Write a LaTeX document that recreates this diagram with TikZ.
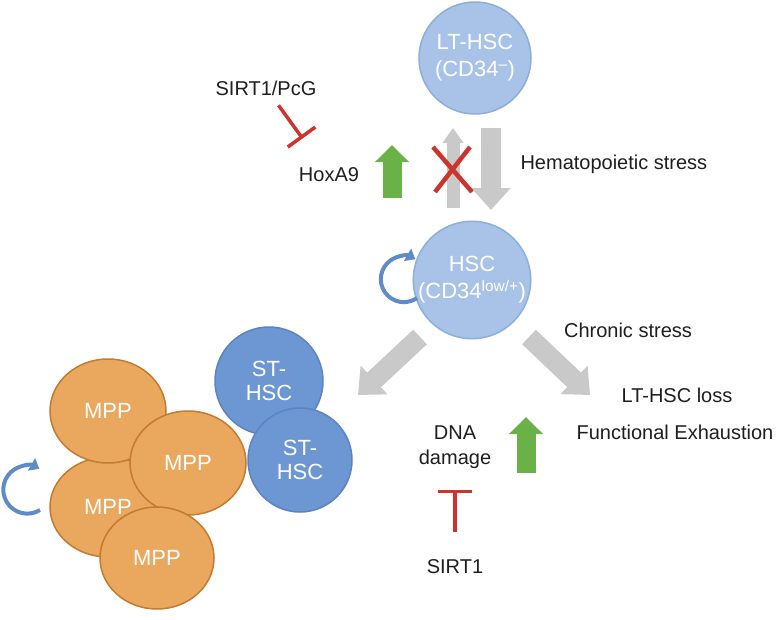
\documentclass[tikz,border=0pt]{standalone}
\usepackage{fontspec}
\setmainfont{Liberation Sans}
\usetikzlibrary{arrows.meta,shapes.geometric}

\definecolor{lightcell}{HTML}{A8C3E7}
\definecolor{lightcellline}{HTML}{8CAEDB}
\definecolor{stcell}{HTML}{6C97D3}
\definecolor{stcellline}{HTML}{5A84C2}
\definecolor{mppfill}{HTML}{EAA75E}
\definecolor{mppline}{HTML}{C47A30}
\definecolor{stressgrey}{HTML}{C9C9C9}
\definecolor{upgreen}{HTML}{6AB247}
\definecolor{blockred}{HTML}{CC342E}
\definecolor{renewblue}{HTML}{5F8CC9}
\definecolor{labeltext}{HTML}{1E1E1E}

\begin{document}
\begin{tikzpicture}[x=1pt,y=-1pt,font=\fontsize{20}{25}\selectfont,text=labeltext]
\tikzstyle{hsccell}=[circle,fill=lightcell,draw=lightcellline,line width=1.5pt,text=white,align=center,inner sep=0pt,minimum size=112pt,font=\fontsize{22}{27}\selectfont]
\tikzstyle{stcell}=[circle,fill=stcell,draw=stcellline,line width=1.5pt,text=white,align=center,inner sep=0pt,minimum size=106pt,font=\fontsize{22}{24}\selectfont]
\tikzstyle{mppcell}=[ellipse,fill=mppfill,draw=mppline,line width=1.5pt,text=white,inner sep=0pt,minimum width=116pt,minimum height=104pt,font=\fontsize{22}{24}\selectfont]
\tikzstyle{stressarrow}=[stressgrey,line width=20pt,-{Triangle[width=38pt,length=22pt]}]
\tikzstyle{uparrow}=[upgreen,line width=19pt,-{Triangle[width=33pt,length=17pt]}]
\tikzstyle{inhib}=[blockred,line width=3.5pt,-{Bar[width=34pt]}]
\tikzstyle{renew}=[renewblue,line width=4pt,-{Triangle[width=14pt,length=9pt]}]
\useasboundingbox (0,0) rectangle (777,619);

% stress arrows between the two HSC states
\coordinate (upfoot) at (453,208);
\coordinate (uptip) at (453,128);
\coordinate (downfoot) at (491,128);
\coordinate (downtip) at (491,210);
\draw[stressgrey,line width=13pt,-{Triangle[width=20pt,length=15pt]}] (upfoot) -- (uptip);
\draw[stressarrow] (downfoot) -- (downtip);
\draw[blockred,line width=4.5pt] (433,147) -- (472,192);
\draw[blockred,line width=4.5pt] (470,147) -- (435,192);

% differentiation / loss
\coordinate (leftfoot) at (420,337);
\coordinate (lefttip) at (358,395);
\coordinate (rightfoot) at (529,337);
\coordinate (righttip) at (590,395);
\draw[stressarrow] (leftfoot) -- (lefttip);
\draw[stressarrow] (rightfoot) -- (righttip);

% green up arrows
\coordinate (hoxfoot) at (392,198);
\coordinate (hoxtip) at (392,145);
\coordinate (dnafoot) at (526,473);
\coordinate (dnatip) at (526,417);
\draw[uparrow] (hoxfoot) -- (hoxtip);
\draw[uparrow] (dnafoot) -- (dnatip);

% cells
\node[hsccell] (lthsc) at (475,58) {LT-HSC\\(CD34\textsuperscript{–})};
\node[hsccell,minimum size=110pt] (hsc) at (472,280) {HSC\\(CD34\textsuperscript{low/+})};
\node[mppcell,minimum height=100pt] (mppc) at (108,507) {MPP};
\node[mppcell] (mppa) at (108,411) {MPP};
\node[mppcell] (mppb) at (188,463) {MPP};
\node[mppcell,minimum width=114pt,minimum height=102pt] (mppd) at (157,558) {MPP};
\node[stcell,minimum size=108pt] (sta) at (269,381) {ST-\\HSC};
\node[stcell,minimum size=104pt] (stb) at (300,460) {ST-\\HSC};

% self-renewal
\draw[renew] (417,298) arc[start angle=55,end angle=300,radius=23];
\draw[renew] (40,510) arc[start angle=58,end angle=300,radius=24];

% labels
\node (pcg) at (266,88) {SIRT1/PcG};
\node (hox) at (329,175) {HoxA9};
\node[anchor=west] (stress) at (517,164) {Hematopoietic stress};
\node (chronic) at (628,330) {Chronic stress};
\node (loss) at (677,395) {LT-HSC loss};
\node (exh) at (675,432) {Functional Exhaustion};
\node[align=center] (dna) at (455,447) {DNA\\damage};
\node (sirt) at (455,567) {SIRT1};

\draw[inhib,shorten <=8pt,shorten >=32pt] (pcg) -- (hox);
\draw[inhib,shorten <=24pt,shorten >=18pt] (sirt) -- (dna);
\end{tikzpicture}
\end{document}
